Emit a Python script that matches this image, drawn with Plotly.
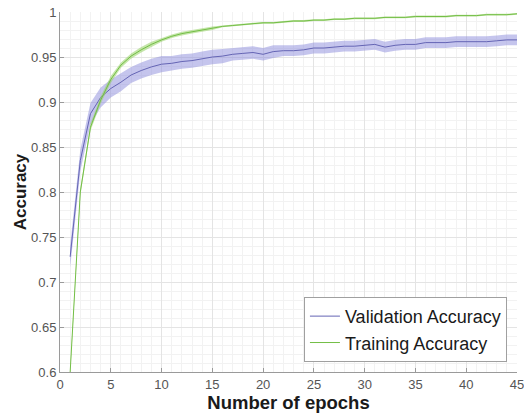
import plotly.graph_objects as go

epochs = list(range(1, 46))

val_mean = [0.728, 0.835, 0.887, 0.905, 0.915, 0.922, 0.930, 0.935, 0.939, 0.942,
            0.943, 0.945, 0.946, 0.948, 0.950, 0.951, 0.953, 0.954, 0.955, 0.953,
            0.956, 0.957, 0.957, 0.958, 0.960, 0.960, 0.961, 0.962, 0.962, 0.963,
            0.964, 0.961, 0.963, 0.964, 0.964, 0.966, 0.966, 0.966, 0.967, 0.967,
            0.967, 0.967, 0.968, 0.969, 0.969]
val_err = [0.012, 0.012, 0.012, 0.011, 0.010, 0.010, 0.009, 0.009, 0.009, 0.009,
           0.008, 0.008, 0.008, 0.008, 0.008, 0.008, 0.007, 0.007, 0.007, 0.007,
           0.007, 0.006, 0.006, 0.006, 0.006, 0.006, 0.006, 0.006, 0.006, 0.006,
           0.006, 0.006, 0.006, 0.006, 0.006, 0.006, 0.006, 0.006, 0.006, 0.006,
           0.006, 0.006, 0.006, 0.006, 0.006]

train_mean = [0.600, 0.800, 0.872, 0.902, 0.925, 0.941, 0.951, 0.958, 0.964, 0.969,
              0.973, 0.976, 0.978, 0.980, 0.982, 0.984, 0.985, 0.986, 0.987, 0.988,
              0.988, 0.989, 0.990, 0.990, 0.991, 0.991, 0.992, 0.992, 0.993, 0.993,
              0.993, 0.994, 0.994, 0.994, 0.995, 0.995, 0.995, 0.995, 0.996, 0.996,
              0.996, 0.997, 0.997, 0.997, 0.998]
train_err = [0.003, 0.004, 0.004, 0.004, 0.004, 0.003, 0.003, 0.003, 0.003, 0.002,
             0.002, 0.002, 0.002, 0.002, 0.002, 0.001, 0.001, 0.001, 0.001, 0.001,
             0.001, 0.001, 0.001, 0.001, 0.001, 0.001, 0.001, 0.001, 0.001, 0.001,
             0.001, 0.001, 0.001, 0.001, 0.001, 0.001, 0.001, 0.001, 0.001, 0.001,
             0.001, 0.001, 0.001, 0.001, 0.001]

x_ticks = [0, 5, 10, 15, 20, 25, 30, 35, 40, 45]
y_ticks = [0.6, 0.65, 0.7, 0.75, 0.8, 0.85, 0.9, 0.95, 1.0]
y_labels = ["0.6", "0.65", "0.7", "0.75", "0.8", "0.85", "0.9", "0.95", "1"]

VAL_LINE = "rgb(100,100,180)"
VAL_FILL = "rgba(140,140,220,0.5)"
TR_LINE = "rgb(115,190,70)"
TR_FILL = "rgba(150,210,100,0.55)"

FONT = "Liberation Sans, Arial, sans-serif"

fig = go.Figure()

def band(mean, err, fill):
    lo = [m - e for m, e in zip(mean, err)]
    hi = [m + e for m, e in zip(mean, err)]
    fig.add_trace(go.Scatter(x=epochs, y=lo, mode="lines", line=dict(width=0),
                             showlegend=False, hoverinfo="skip"))
    fig.add_trace(go.Scatter(x=epochs, y=hi, mode="lines", line=dict(width=0),
                             fill="tonexty", fillcolor=fill, showlegend=False,
                             hoverinfo="skip"))

band(val_mean, val_err, VAL_FILL)
fig.add_trace(go.Scatter(x=epochs, y=val_mean, mode="lines", name="Validation Accuracy",
                         line=dict(color=VAL_LINE, width=1)))
band(train_mean, train_err, TR_FILL)
fig.add_trace(go.Scatter(x=epochs, y=train_mean, mode="lines", name="Training Accuracy",
                         line=dict(color=TR_LINE, width=1)))

axis_common = dict(
    showline=True, linecolor="#9a9a9a", linewidth=1,
    ticks="inside", ticklen=4, tickcolor="#9a9a9a",
    tickfont=dict(family=FONT, size=13, color="#555555"),
    showgrid=True, gridcolor="#e4e4e4", gridwidth=1,
    zeroline=False, mirror=False, ticklabeloverflow="allow",
    automargin=False,
)

fig.update_xaxes(
    range=[0, 45.0001], tickvals=x_ticks,
    minor=dict(dtick=1, showgrid=True, gridcolor="#f2f2f2", gridwidth=1, ticks=""),
    title=dict(text="<b>Number of epochs</b>", standoff=5,
               font=dict(family=FONT, size=18.5, color="#1a1a1a")),
    **axis_common)
fig.update_yaxes(
    range=[0.6, 1.0], tickvals=y_ticks, ticktext=y_labels,
    minor=dict(dtick=0.01, showgrid=True, gridcolor="#f2f2f2", gridwidth=1, ticks=""),
    title=dict(text="<b>Accuracy</b>", standoff=0,
               font=dict(family=FONT, size=17, color="#1a1a1a")),
    **axis_common)

fig.update_layout(
    width=524, height=417,
    margin=dict(l=60, r=7, t=12, b=45),
    paper_bgcolor="white", plot_bgcolor="white",
    font=dict(family=FONT),
    legend=dict(
        x=0.978, y=0.028, xanchor="right", yanchor="bottom",
        bgcolor="white", bordercolor="#a0a0a0", borderwidth=1,
        font=dict(size=18, color="#1a1a1a"),
        tracegroupgap=0, itemwidth=30, traceorder="normal",
    ),
)

fig.write_html("out.html", config={"displayModeBar": False},
               post_script="document.body.style.margin='0';document.body.style.overflow='hidden';")
